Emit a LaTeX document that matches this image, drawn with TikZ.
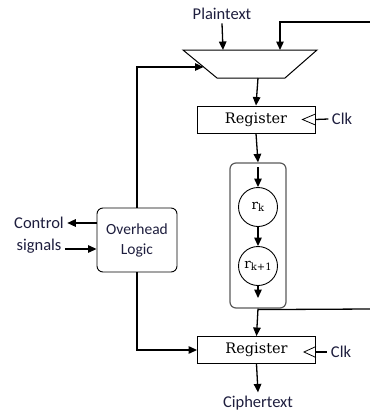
\documentclass[tikz,border=0pt]{standalone}
\usepackage{fontspec}
\setmainfont{Carlito}
\newfontfamily\regfont{DejaVu Serif}
\usetikzlibrary{arrows.meta}
\definecolor{txtc}{RGB}{30,30,62}
\definecolor{grpc}{RGB}{90,90,90}
\tikzset{
  conn/.style={line width=1.3pt},
  arr/.style={conn,-{Triangle[length=8.5pt,width=7.5pt]}},
  lbl/.style={text=txtc,font=\fontsize{16.5}{18}\selectfont},
  regbox/.style={draw,line width=0.9pt,minimum width=118pt,minimum height=27pt,inner sep=0pt,font=\regfont\fontsize{14.5}{16}\selectfont},
  rnd/.style={draw,circle,line width=0.9pt,minimum size=39pt,inner sep=0pt,font=\regfont\fontsize{13.5}{15}\selectfont},
  clkmark/.style={line width=0.8pt},
}
\begin{document}
\begin{tikzpicture}[x=1pt,y=-1pt]
\useasboundingbox (0,0) rectangle (370,413);
% multiplexer
\coordinate (muxTL) at (183,50);
\coordinate (muxTR) at (317,50);
\coordinate (muxBR) at (285,78);
\coordinate (muxBL) at (217,78);
\coordinate (muxIn1) at (223,50);
\coordinate (muxIn2) at (280,50);
\coordinate (muxInL) at (203.5,67);
\coordinate (muxOut) at (258,78);
\draw[line width=1pt] (muxTL) -- (muxTR) -- (muxBR) -- (muxBL) -- cycle;
\node[lbl] (plain) at (222,14) {Plaintext};
\draw[arr] (plain.south) -- (muxIn1);
\coordinate (fbTop) at (370,22);
\draw[arr] (fbTop) -| (muxIn2);
% register 1
\node[regbox] (reg1) at (256,119.5) {Register};
\node[lbl] (clk1) at (342,119) {Clk};
\draw[conn] (reg1.east) -- (clk1.west);
\draw[clkmark] ([yshift=5.5pt]reg1.east) -- ([xshift=-13pt]reg1.east) -- ([yshift=-5.5pt]reg1.east);
\draw[arr] (muxOut) -- (reg1.north);
% round group
\node[draw=grpc,line width=1.2pt,rounded corners=6pt,minimum width=56pt,minimum height=145pt] (grp) at (258,235.5) {};
\draw[arr] (reg1.south) -- (grp.north);
\node[rnd] (rk) at (258,207) {r\raisebox{-0.35ex}{\fontsize{10}{11}\selectfont k}};
\node[rnd] (rk1) at (258,266) {r\raisebox{-0.35ex}{\fontsize{10}{11}\selectfont k+1}};
\coordinate (gin) at (258,167);
\coordinate (gout) at (258,298);
\draw[arr] (gin) -- (rk.north);
\draw[arr] (rk.south) -- (rk1.north);
\draw[arr] (rk1.south) -- (gout);
% register 2
\node[regbox] (reg2) at (256.5,350) {Register};
\node[lbl] (clk2) at (341,352) {Clk};
\draw[conn] ([yshift=-2pt]reg2.east) -- (clk2.west);
\draw[clkmark] ([yshift=3.5pt]reg2.east) -- ([xshift=-12pt,yshift=-2pt]reg2.east) -- ([yshift=-7.5pt]reg2.east);
\draw[arr] (grp.south) -- (reg2.north);
\coordinate (fbR) at (370,309);
\draw[conn] ([yshift=-1pt]grp.south) -- (fbR);
\node[lbl] (ciph) at (258,403) {Ciphertext};
\draw[arr] (reg2.south) -- (ciph.north);
% overhead logic
\node[draw,line width=0.9pt,rounded corners=6pt,minimum width=80pt,minimum height=64pt,align=center,text=txtc,font=\fontsize{15.5}{20}\selectfont] (ovh) at (137,240) {Overhead\\Logic};
\draw[arr] (ovh.north) |- (muxInL);
\draw[arr] (ovh.south) |- (reg2.west);
\node[lbl] (ctrl) at (39,223) {Control};
\node[lbl] (sig) at (39,246) {signals};
\coordinate (sigEnd) at ([yshift=-3pt]sig.east);
\draw[arr] (ovh.west |- ctrl.east) -- (ctrl.east);
\draw[arr] (sigEnd) -- (ovh.west |- sigEnd);
\end{tikzpicture}
\end{document}
